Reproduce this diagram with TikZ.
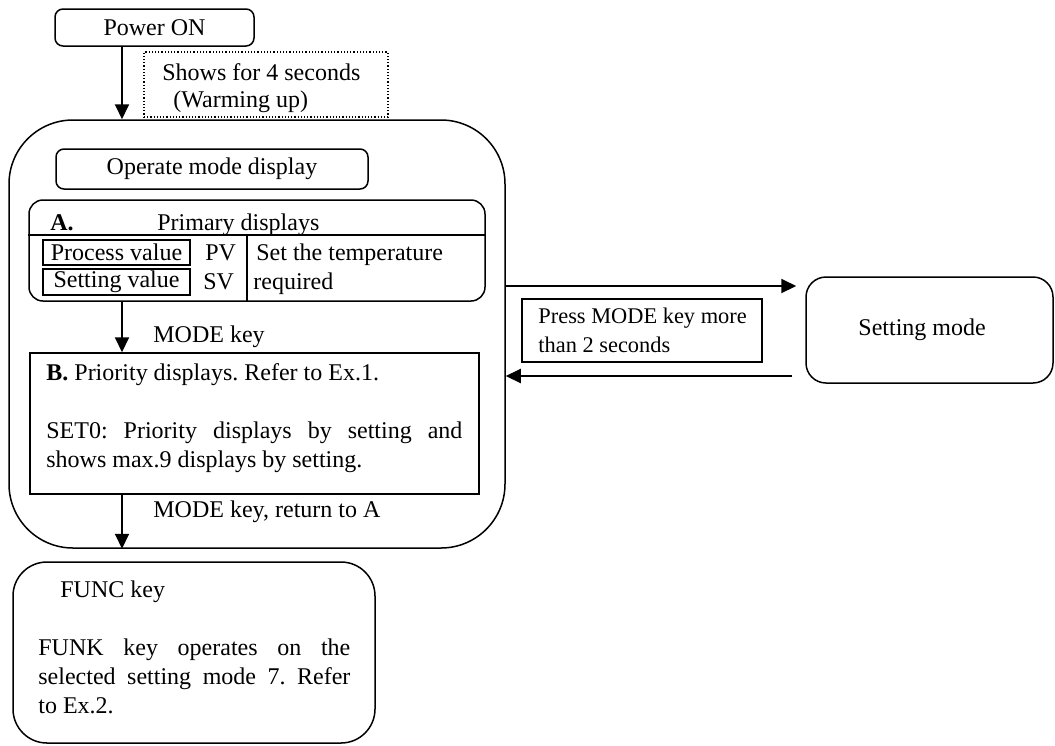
\documentclass[tikz,border=0pt]{standalone}
\usepackage{fontspec}
\setmainfont{Liberation Serif}
\usetikzlibrary{arrows.meta,positioning}
\tikzset{
  rbox/.style={rectangle,rounded corners=#1,draw,line width=0.75pt,inner sep=0pt},
  rbox/.default=4pt,
  sbox/.style={rectangle,draw,line width=0.6pt,inner sep=0pt},
  note/.style={anchor=base west,inner sep=0pt},
  arr/.style={-{Triangle[length=7.5pt,width=7pt]},line width=1pt},
}
\begin{document}
\frenchspacing
\fontsize{12}{14.5}\selectfont
\begin{tikzpicture}[x=0.5pt,y=-0.5pt]
  \useasboundingbox (0,0) rectangle (1055,745);
  \coordinate (colx) at (122,0);

  % power on and warm-up note
  \node[rbox,minimum width=99.5pt,minimum height=18.5pt] (power) at (154.5,27.5) {Power ON};
  \node[sbox,densely dotted,minimum width=122pt,minimum height=32.5pt] (warm) at (266,84.5) {};
  \node[note] (warm1) at (162,80) {Shows for 4 seconds};
  \node[note] (warm2) at (173,107) {(Warming up)};

  % operate mode frame
  \node[rbox=32pt,minimum width=248pt,minimum height=214pt] (main) at (257,334) {};
  \node[rbox,minimum width=156pt,minimum height=20pt] (opmode) at (212,169) {Operate mode display};

  % A: primary displays
  \node[rbox=7pt,minimum width=228pt,minimum height=50.5pt] (prim) at (257,250.5) {};
  \coordinate (primrule) at (247,235);
  \draw[line width=0.75pt] (prim.west |- primrule) -- (prim.east |- primrule);
  \draw[line width=0.75pt] (primrule) -- (prim.south -| primrule);
  \node[note] (primA) at (50,230) {\bfseries A.};
  \node[note] (primt) at (157,230) {Primary displays};
  \node[sbox,minimum width=73.5pt,minimum height=12.5pt] (pv) at (116.5,252.5) {Process value};
  \node[sbox,minimum width=73.5pt,minimum height=13pt] (sv) at (116.5,282) {Setting value};
  \node[note] (pvt) at (205,260) {PV};
  \node[note] (svt) at (203,289) {SV};
  \node[note] (req1) at (256,260) {Set the temperature};
  \node[note] (req2) at (253,289) {required};

  % B: priority displays
  \node[sbox,line width=0.75pt,minimum width=224.5pt,minimum height=70.5pt] (prio) at (254.5,423.5) {};
  \node[note] (prio1) at (46,380) {{\bfseries B.} Priority displays. Refer to Ex.1.};
  \node[note,text width=208pt,align=justify] (prio2) at (46,438)
    {SET0: Priority displays by setting and\linebreak shows max.9 displays by setting.};
  \node[note] (key1) at (153,342) {MODE key};
  \node[note] (key2) at (153,517) {MODE key, return to A};

  % FUNC key
  \node[rbox=17pt,minimum width=181pt,minimum height=90.5pt] (func) at (194,652.5) {};
  \node[note] (func1) at (60,597) {FUNC key};
  \node[note,text width=156pt,align=justify] (func2) at (38,655)
    {FUNK key operates on the\linebreak selected setting mode 7. Refer\linebreak to Ex.2.};

  % setting mode
  \node[rbox=10pt,minimum width=123.5pt,minimum height=53pt] (setm) at (929.5,330) {};
  \node[note] (setmt) at (858,335) {Setting mode};
  \node[sbox,minimum width=120pt,minimum height=31.5pt] (press) at (642,330.5) {};
  \node[note,text width=118pt,align=flush left,font=\fontsize{11.2}{14.5}\selectfont]
    (press1) at (538,323) {Press MODE key more\\than 2 seconds};

  % connectors
  \draw[arr] (power.south -| colx) -- (main.north -| colx);
  \draw[arr] (prim.south -| colx) -- (prio.north -| colx);
  \draw[arr] (prio.south -| colx) -- (main.south -| colx);
  \coordinate (toset) at (0,286);
  \coordinate (fromset) at (0,376);
  \draw[arr,shorten >=4.5pt] (main.east |- toset) -- (setm.west |- toset);
  \draw[arr,shorten <=6.5pt] (setm.west |- fromset) -- (main.east |- fromset);
\end{tikzpicture}
\end{document}
